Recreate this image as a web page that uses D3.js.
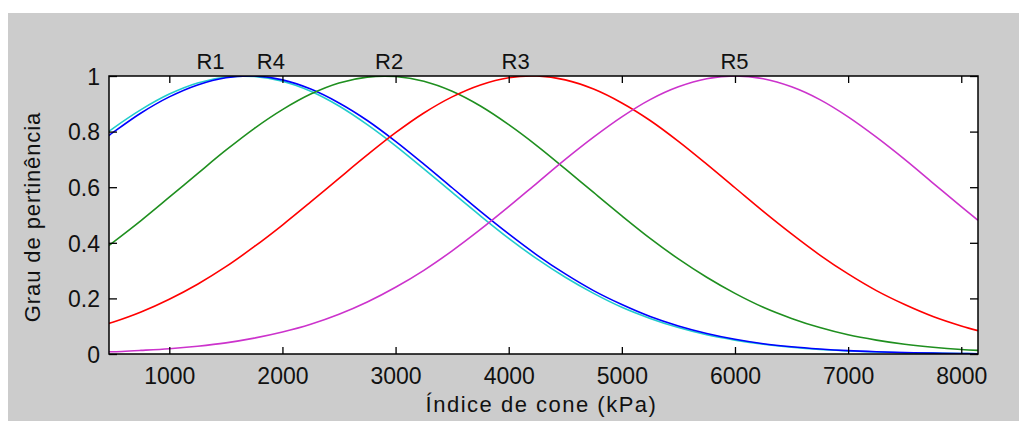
<!DOCTYPE html>
<html>
<head>
<meta charset="utf-8">
<script src="https://cdn.jsdelivr.net/npm/d3@7"></script>
<style>
    body { margin: 0; background: #ffffff; }
    text { font-family: "Liberation Sans", Arial, sans-serif; fill: #111; }
</style>
</head>
<body>
<div id="chart"></div>
<script>
// cone index samples (kPa) shared by all membership curves
var kPa = [467, 500, 750, 1000, 1250, 1500, 1750, 2000, 2250, 2500, 2750, 3000, 3250, 3500, 3750, 4000,
           4250, 4500, 4750, 5000, 5250, 5500, 5750, 6000, 6250, 6500, 6750, 7000, 7250, 7500, 7750, 8000, 8148];

// membership degree, one array per class
var r1 = [0.801, 0.811, 0.879, 0.935, 0.975, 0.996, 0.998, 0.981, 0.945, 0.892, 0.825, 0.749, 0.666, 0.581, 0.497, 0.416,
          0.342, 0.276, 0.218, 0.168, 0.128, 0.095, 0.069, 0.050, 0.035, 0.024, 0.016, 0.011, 0.007, 0.004, 0.003, 0.002, 0.001];
var r4 = [0.786, 0.796, 0.867, 0.925, 0.968, 0.994, 1.000, 0.986, 0.953, 0.903, 0.840, 0.765, 0.683, 0.598, 0.513, 0.432,
          0.356, 0.288, 0.228, 0.178, 0.135, 0.101, 0.074, 0.053, 0.037, 0.026, 0.018, 0.012, 0.008, 0.005, 0.003, 0.002, 0.001];
var r2 = [0.391, 0.401, 0.480, 0.564, 0.649, 0.733, 0.811, 0.879, 0.935, 0.975, 0.996, 0.998, 0.981, 0.945, 0.892, 0.825,
          0.749, 0.666, 0.581, 0.497, 0.416, 0.342, 0.276, 0.218, 0.168, 0.128, 0.095, 0.069, 0.050, 0.035, 0.024, 0.016, 0.013];
var r3 = [0.110, 0.114, 0.151, 0.197, 0.251, 0.314, 0.386, 0.464, 0.547, 0.632, 0.716, 0.796, 0.867, 0.925, 0.968, 0.994,
          1.000, 0.986, 0.953, 0.903, 0.840, 0.765, 0.683, 0.598, 0.513, 0.432, 0.356, 0.288, 0.228, 0.178, 0.135, 0.101, 0.084];
var r5 = [0.008, 0.008, 0.013, 0.019, 0.028, 0.040, 0.057, 0.079, 0.107, 0.143, 0.187, 0.240, 0.301, 0.371, 0.448, 0.530,
          0.615, 0.700, 0.780, 0.853, 0.915, 0.961, 0.990, 1.000, 0.990, 0.961, 0.915, 0.853, 0.780, 0.700, 0.615, 0.530, 0.481];

// drawing order and colours of the curves
var seriesValues = [r1, r4, r2, r3, r5];
var seriesColors = ["#22cccc", "#0000ff", "#1f8f1f", "#ff0000", "#cc33cc"];

// class labels above the plot and where they sit on the kPa axis
var labelNames = ["R1", "R4", "R2", "R3", "R5"];
var labelKPa = [1364, 1898, 2943, 4061, 5996];

// axis ticks
var xTicks = [1000, 2000, 3000, 4000, 5000, 6000, 7000, 8000];
var yTicks = [0, 0.2, 0.4, 0.6, 0.8, 1];

var width = 1019, height = 421;
var plot = { left: 109, top: 76, right: 978, bottom: 354 };

var svg = d3.select("#chart").append("svg")
    .attr("width", width)
    .attr("height", height);

// figure background
svg.append("rect").attr("width", width).attr("height", height).attr("fill", "#ffffff");
svg.append("rect")
    .attr("x", 8).attr("y", 13)
    .attr("width", width - 8).attr("height", height - 13)
    .attr("fill", "#cccccc");

// scales
var x = d3.scaleLinear().domain([467, 8148]).range([plot.left, plot.right]);
var y = d3.scaleLinear().domain([0, 1]).range([plot.bottom, plot.top]);

// white axes area
svg.append("rect")
    .attr("x", plot.left).attr("y", plot.top)
    .attr("width", plot.right - plot.left).attr("height", plot.bottom - plot.top)
    .attr("fill", "#ffffff");

svg.append("clipPath").attr("id", "clip")
    .append("rect")
    .attr("x", plot.left).attr("y", plot.top)
    .attr("width", plot.right - plot.left).attr("height", plot.bottom - plot.top);

// membership curves
var line = d3.line()
    .x(function(d, i) { return x(kPa[i]); })
    .y(function(d) { return y(d); })
    .curve(d3.curveCatmullRom);

svg.append("g").attr("clip-path", "url(#clip)")
    .selectAll("path.curve")
    .data(seriesValues)
    .enter().append("path")
    .attr("class", "curve")
    .attr("d", line)
    .attr("fill", "none")
    .attr("stroke", function(d, i) { return seriesColors[i]; })
    .attr("stroke-width", 1.6);

// bottom axis with labels, ticks pointing inwards
var xAxis = svg.append("g")
    .attr("transform", "translate(0," + plot.bottom + ")")
    .call(d3.axisBottom(x).tickValues(xTicks).tickSize(-7).tickFormat(d3.format("d")));
xAxis.selectAll("text").attr("y", 30).attr("dy", 0);

// left axis with labels
var yAxis = svg.append("g")
    .attr("transform", "translate(" + plot.left + ",0)")
    .call(d3.axisLeft(y).tickValues(yTicks).tickSize(-8).tickFormat(function(d) { return String(d); }));
yAxis.selectAll("text").attr("x", -9).attr("dy", "0.36em");

// top and right ticks without labels
svg.append("g")
    .attr("transform", "translate(0," + plot.top + ")")
    .call(d3.axisTop(x).tickValues(xTicks).tickSize(-7).tickFormat(""));
svg.append("g")
    .attr("transform", "translate(" + plot.right + ",0)")
    .call(d3.axisRight(y).tickValues(yTicks).tickSize(-8).tickFormat(""));

svg.selectAll(".domain").remove();
svg.selectAll(".tick line").attr("stroke", "#000").attr("stroke-width", 1.3);
svg.selectAll(".tick text")
    .attr("fill", "#111")
    .style("font-family", "'Liberation Sans', Arial, sans-serif")
    .style("font-size", "23px");

// axes box
svg.append("rect")
    .attr("x", plot.left).attr("y", plot.top)
    .attr("width", plot.right - plot.left).attr("height", plot.bottom - plot.top)
    .attr("fill", "none")
    .attr("stroke", "#000")
    .attr("stroke-width", 1.5);

// class labels
svg.selectAll("text.rlabel")
    .data(labelNames)
    .enter().append("text")
    .attr("class", "rlabel")
    .attr("x", function(d, i) { return x(labelKPa[i]); })
    .attr("y", plot.top - 7)
    .attr("text-anchor", "middle")
    .style("font-size", "22px")
    .text(function(d) { return d; });

// axis titles
svg.append("text")
    .attr("x", (plot.left + plot.right) / 2 - 2)
    .attr("y", 412)
    .attr("text-anchor", "middle")
    .style("font-size", "22px")
    .style("letter-spacing", "1.5px")
    .text("Índice de cone (kPa)");

svg.append("text")
    .attr("transform", "translate(40," + 217 + ") rotate(-90)")
    .attr("text-anchor", "middle")
    .style("font-size", "22px")
    .style("letter-spacing", "0.9px")
    .text("Grau de pertinência");
</script>
</body>
</html>
